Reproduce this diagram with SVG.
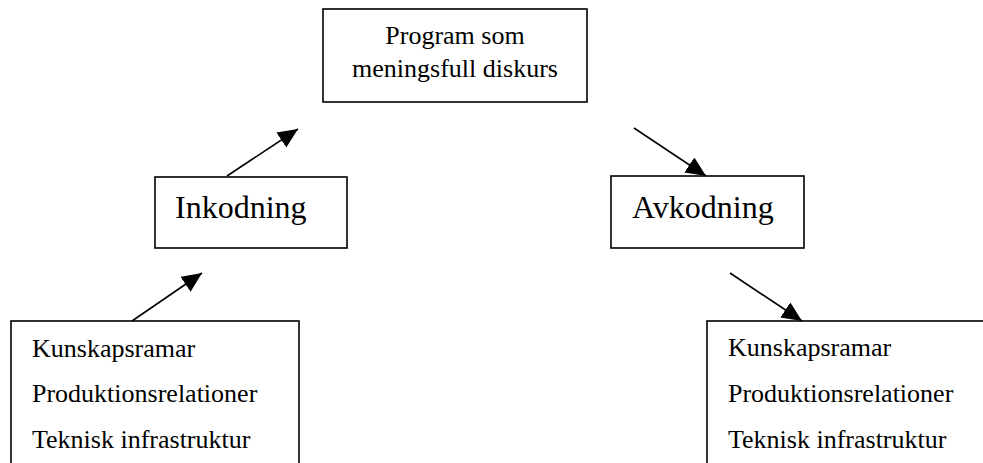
<svg xmlns="http://www.w3.org/2000/svg" width="983" height="463" viewBox="0 0 983 463">
<style>
  .box { fill: #ffffff; stroke: #000000; stroke-width: 1.6; }
  .conn { stroke: #000000; stroke-width: 1.6; fill: none; }
</style>
<defs>
  <marker id="arrow" markerUnits="userSpaceOnUse" markerWidth="22" markerHeight="20" refX="20" refY="9" orient="auto">
    <path d="M0,0 L20,9 L0,18 Z" fill="#000000"/>
  </marker>
</defs>
<rect width="983" height="463" fill="#ffffff"/>
<g font-family="'Liberation Serif', 'Times New Roman', 'DejaVu Serif', serif" fill="#000000">
<g id="program">
  <rect class="box" x="323" y="9" width="264" height="93"/>
  <text x="455" y="44" font-size="26" text-anchor="middle">Program som</text>
  <text x="455" y="77" font-size="26" text-anchor="middle">meningsfull diskurs</text>
</g>
<g id="inkodning">
  <rect class="box" x="155" y="177" width="192" height="71"/>
  <text x="175" y="218" font-size="32">Inkodning</text>
</g>
<g id="avkodning">
  <rect class="box" x="611" y="176" width="193" height="72"/>
  <text x="632" y="218" font-size="32">Avkodning</text>
</g>
<g id="left-factors">
  <rect class="box" x="11" y="321" width="288" height="160"/>
  <text x="32" y="357" font-size="26">Kunskapsramar</text>
  <text x="32" y="402" font-size="26">Produktionsrelationer</text>
  <text x="32" y="448" font-size="26">Teknisk infrastruktur</text>
</g>
<g id="right-factors">
  <rect class="box" x="707" y="321" width="290" height="160"/>
  <text x="728" y="356" font-size="26">Kunskapsramar</text>
  <text x="728" y="402" font-size="26">Produktionsrelationer</text>
  <text x="728" y="448" font-size="26">Teknisk infrastruktur</text>
</g>
</g>
<g id="connectors">
  <line class="conn" x1="227" y1="176" x2="298" y2="129" marker-end="url(#arrow)"/>
  <line class="conn" x1="132" y1="321" x2="202" y2="273" marker-end="url(#arrow)"/>
  <line class="conn" x1="634" y1="128" x2="706" y2="176" marker-end="url(#arrow)"/>
  <line class="conn" x1="730" y1="273" x2="802" y2="321" marker-end="url(#arrow)"/>
</g>
</svg>
